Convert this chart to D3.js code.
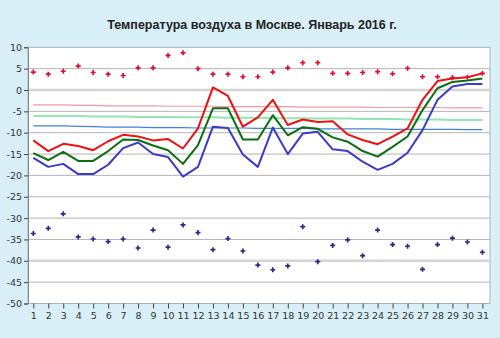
<!DOCTYPE html>
<html><head><meta charset="utf-8">
<script src="https://cdn.jsdelivr.net/npm/d3@7"></script>
<style>body{margin:0;background:#d9eff7;}svg{display:block;}</style>
</head><body>
<script>
const title = "Температура воздуха в Москве. Январь 2016 г.";
const days = d3.range(1, 32);
const yTicks = [10,5,0,-5,-10,-15,-20,-25,-30,-35,-40,-45,-50];
const tMax = [-11.8,-14.3,-12.6,-13.1,-14.1,-12.0,-10.5,-10.9,-11.8,-11.5,-13.7,-9.0,0.6,-1.4,-8.6,-6.4,-2.3,-8.2,-6.9,-7.5,-7.3,-10.4,-11.7,-12.7,-10.9,-9.0,-2.3,2.1,2.7,3.0,3.9];
const tMean = [-14.8,-16.4,-14.5,-16.6,-16.6,-14.3,-11.6,-11.7,-13.0,-14.1,-17.3,-12.9,-4.3,-4.3,-11.6,-11.6,-5.9,-10.6,-8.7,-9.1,-11.1,-12.1,-14.3,-15.6,-13.3,-10.9,-4.7,0.4,1.9,2.2,2.7];
const tMin = [-15.9,-18.0,-17.3,-19.7,-19.7,-17.5,-13.6,-12.3,-15.0,-15.7,-20.3,-18.0,-8.6,-8.9,-15.1,-18.0,-8.8,-15.0,-10.2,-9.8,-13.9,-14.3,-16.8,-18.7,-17.3,-14.7,-9.4,-2.3,0.8,1.4,1.4];
const normMax = [-3.5,-3.5,-3.5,-3.6,-3.6,-3.7,-3.7,-3.7,-3.7,-3.8,-3.8,-3.8,-3.8,-3.9,-3.9,-3.9,-3.9,-3.9,-4.0,-4.0,-4.0,-4.0,-4.0,-4.1,-4.1,-4.1,-4.1,-4.1,-4.2,-4.2,-4.2];
const normMean = [-6.1,-6.1,-6.1,-6.1,-6.2,-6.2,-6.2,-6.3,-6.3,-6.3,-6.4,-6.4,-6.4,-6.5,-6.5,-6.5,-6.6,-6.6,-6.6,-6.7,-6.7,-6.7,-6.8,-6.8,-6.8,-6.9,-6.9,-6.9,-7.0,-7.0,-7.0];
const normMin = [-8.4,-8.4,-8.4,-8.5,-8.6,-8.7,-8.7,-8.7,-8.8,-8.8,-8.8,-8.9,-8.9,-8.9,-8.9,-9.0,-9.0,-9.0,-9.0,-9.1,-9.1,-9.1,-9.1,-9.1,-9.2,-9.2,-9.2,-9.2,-9.2,-9.3,-9.3];
const recMax = [4.2,3.7,4.4,5.6,4.1,3.7,3.4,5.2,5.2,8.1,8.7,5.0,3.7,3.7,3.1,3.1,4.2,5.2,6.4,6.4,3.9,3.9,4.1,4.3,3.8,5.1,3.1,3.1,2.9,3.0,3.9];
const recMin = [-33.6,-32.4,-29.0,-34.4,-34.9,-35.5,-34.9,-37.0,-32.8,-36.8,-31.6,-33.4,-37.4,-34.8,-37.7,-41.0,-42.1,-41.2,-32.0,-40.2,-36.4,-35.1,-38.8,-32.8,-36.2,-36.6,-42.0,-36.2,-34.7,-35.6,-38.0];

const W = 500, H = 338;
const svg = d3.select("body").append("svg").attr("width", W).attr("height", H);
const plot = {l: 28, r: 490, t: 47.3, b: 303.5};
const x = d3.scalePoint().domain(days).range([33.3, 482.4]);
const y = d3.scaleLinear().domain([-50, 10]).range([plot.b, plot.t]);

svg.append("text").attr("x", 252).attr("y", 29).attr("text-anchor", "middle")
  .attr("font-family", "Liberation Sans, Arial, sans-serif").attr("font-weight", "bold")
  .attr("font-size", 12.5).attr("fill", "#222").text(title);

svg.append("rect").attr("x", plot.l).attr("y", plot.t).attr("width", plot.r - plot.l)
  .attr("height", plot.b - plot.t).attr("fill", "#fff").attr("stroke", "#a8b4bc");

// gridlines
svg.append("g").selectAll("line").data(yTicks.filter(v => v > -50 && v < 10)).join("line")
  .attr("x1", plot.l).attr("x2", plot.r).attr("y1", d => y(d)).attr("y2", d => y(d))
  .attr("stroke", d => (d === 0 || d === -40) ? "#d4d4d4" : "#b4b4b4")
  .attr("stroke-width", d => (d === 0 || d === -40) ? 2.5 : 1);

// axes
const yAxis = d3.axisLeft(y).tickValues(yTicks).tickSize(4).tickPadding(2).tickFormat(d => d);
const gy = svg.append("g").attr("transform", `translate(${plot.l},0)`).call(yAxis);
const xAxis = d3.axisBottom(x).tickSize(5).tickPadding(4);
const gx = svg.append("g").attr("transform", `translate(0,${plot.b})`).call(xAxis);
gx.select(".domain").remove();
gy.select(".domain").attr("stroke", "#7a8a94");
[gx, gy].forEach(g => {
  g.selectAll(".tick line").attr("stroke", "#444");
  g.selectAll("text").attr("font-family", "DejaVu Sans, Verdana, sans-serif").attr("font-size", 9.5).attr("fill", "#333");
});

const line = d3.line().x((d, i) => x(days[i])).y(d => y(d));
const series = [
  {data: normMax, color: "#f29aa4", w: 1.2},
  {data: normMean, color: "#8ee8b0", w: 2},
  {data: normMin, color: "#3f84d6", w: 1.2},
  {data: tMin, color: "#3b3bc8", w: 2},
  {data: tMean, color: "#0b6e12", w: 2},
  {data: tMax, color: "#ee1111", w: 2}
];
svg.append("g").selectAll("path").data(series).join("path")
  .attr("d", d => line(d.data)).attr("fill", "none")
  .attr("stroke", d => d.color).attr("stroke-width", d => d.w).attr("stroke-linejoin", "round");

const sym = d3.symbol().type(d3.symbolCross).size(14);
svg.append("g").selectAll("path").data(recMax).join("path")
  .attr("transform", (d, i) => `translate(${x(days[i])},${y(d)})`).attr("d", sym).attr("fill", "#e0102a");
svg.append("g").selectAll("path").data(recMin).join("path")
  .attr("transform", (d, i) => `translate(${x(days[i])},${y(d)})`).attr("d", sym).attr("fill", "#2a2a8c");
</script>
</body></html>
